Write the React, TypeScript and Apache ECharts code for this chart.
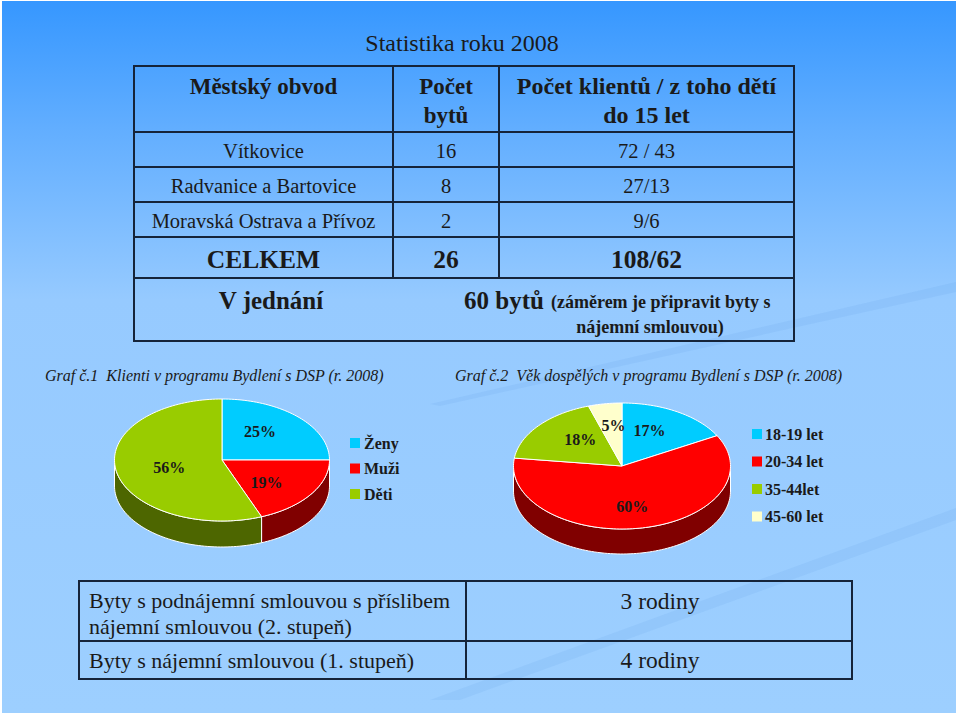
import React, { useEffect, useRef } from "react";
import * as echarts from "echarts";

// ---------- data ----------
const titleText = "Statistika roku 2008";
const headerDistrict = "Městský obvod";
const headerFlats = ["Počet", "bytů"];
const headerClients = ["Počet klientů / z toho dětí", "do 15 let"];
const districts = ["Vítkovice", "Radvanice a Bartovice", "Moravská Ostrava a Přívoz"];
const flats = ["16", "8", "2"];
const clients = ["72 / 43", "27/13", "9/6"];
const totalLabel = "CELKEM";
const totalFlats = "26";
const totalClients = "108/62";
const negotiationLabel = "V jednání";
const negotiationValue = "60 bytů";
const negotiationNote = ["(záměrem je připravit byty s", "nájemní smlouvou)"];

const chart1Caption = "Graf č.1  Klienti v programu Bydlení s DSP (r. 2008)";
const chart1Categories = ["Ženy", "Muži", "Děti"];
const chart1Values = [25, 19, 56];
const chart1Colors = ["#00ccff", "#ff0000", "#99cc00"];
const chart1Sides = ["#006680", "#800000", "#4d6600"];

const chart2Caption = "Graf č.2  Věk dospělých v programu Bydlení s DSP (r. 2008)";
const chart2Categories = ["18-19 let", "20-34 let", "35-44let", "45-60 let"];
const chart2Values = [17, 60, 18, 5];
const chart2Colors = ["#00ccff", "#ff0000", "#99cc00", "#ffffcc"];
const chart2Sides = ["#006680", "#800000", "#4d6600", "#808066"];

const stageLabels = [
  ["Byty s podnájemní smlouvou s příslibem", "nájemní smlouvou (2. stupeň)"],
  ["Byty s nájemní smlouvou (1. stupeň)"],
];
const stageValues = ["3 rodiny", "4 rodiny"];

// ---------- style ----------
const SERIF = "Liberation Serif, Times New Roman, serif";
const INK = "#1a1a1a";
const LINE = "#15243a";

function pieRenderer(
  values: number[],
  colors: string[],
  sides: string[],
  cx: number,
  cy: number,
  rx: number,
  ry: number,
  depth: number
) {
  const total = values.reduce((a, b) => a + b, 0);
  const starts: number[] = [];
  let acc = 0;
  values.forEach((v) => {
    starts.push(acc);
    acc += v;
  });
  const P = (t: number, dy = 0) => [cx + rx * Math.sin(t), cy - ry * Math.cos(t) + dy];
  return (params: any, api: any) => {
    const i = params.dataIndex;
    const v = api.value(0);
    const a0 = (starts[i] / total) * Math.PI * 2;
    const a1 = a0 + (v / total) * Math.PI * 2;
    const n = Math.max(4, Math.ceil((a1 - a0) / 0.03));
    const top: number[][] = [[cx, cy]];
    for (let k = 0; k <= n; k++) top.push(P(a0 + ((a1 - a0) * k) / n));
    const children: any[] = [];
    const s0 = Math.max(a0, Math.PI / 2);
    const s1 = Math.min(a1, (Math.PI * 3) / 2);
    if (s1 > s0) {
      const m = Math.max(4, Math.ceil((s1 - s0) / 0.03));
      const upper: number[][] = [];
      const lower: number[][] = [];
      for (let k = 0; k <= m; k++) {
        const t = s0 + ((s1 - s0) * k) / m;
        upper.push(P(t));
        lower.push(P(t, depth));
      }
      children.push({
        type: "polygon",
        z2: 1,
        shape: { points: upper.concat(lower.reverse()) },
        style: { fill: sides[i], stroke: "#ffffff", lineWidth: 1 },
      });
    }
    children.push({
      type: "polygon",
      z2: 5,
      shape: { points: top },
      style: { fill: colors[i], stroke: "#ffffff", lineWidth: 1 },
    });
    const mid = (a0 + a1) / 2;
    children.push({
      type: "text",
      z2: 10,
      style: {
        text: v + "%",
        x: cx + rx * 0.5 * Math.sin(mid),
        y: cy - ry * 0.65 * Math.cos(mid),
        font: `bold 16px ${SERIF}`,
        fill: INK,
        align: "center",
        verticalAlign: "middle",
      },
    });
    return { type: "group", children };
  };
}

function txt(text: string, x: number, y: number, font: string, align = "center") {
  return {
    type: "text",
    style: { text, x, y, font, fill: INK, align, verticalAlign: "middle" },
  };
}
function ln(x1: number, y1: number, x2: number, y2: number) {
  return {
    type: "line",
    shape: { x1, y1, x2, y2 },
    style: { stroke: LINE, lineWidth: 2 },
  };
}

function legend(cats: string[], colors: string[], sx: number, tx: number, y0: number, step: number, size: number) {
  const out: any[] = [];
  cats.forEach((c, i) => {
    const y = y0 + i * step;
    out.push({
      type: "rect",
      shape: { x: sx, y: y - 5, width: 10, height: 10 },
      style: { fill: colors[i] },
    });
    out.push(txt(c, tx, y, `bold ${size}px ${SERIF}`, "left"));
  });
  return out;
}

export default function App() {
  const ref = useRef<HTMLDivElement>(null);
  useEffect(() => {
    if (!ref.current) return;
    const chart = echarts.init(ref.current, null, { renderer: "svg" });

    // main table geometry
    const tL = 134, tR = 794, c1 = 393, c2 = 499;
    const rows = [66, 132, 167, 202, 237, 278, 341];
    const col1 = (tL + c1) / 2, col2 = (c1 + c2) / 2, col3 = (c2 + tR) / 2;

    const g: any[] = [];
    g.push({
      type: "rect",
      shape: { x: 2, y: 1, width: 954, height: 712 },
      style: {
        fill: new echarts.graphic.LinearGradient(0, 0, 0, 1, [
          { offset: 0, color: "#3697ff" },
          { offset: 0.18, color: "#62aeff" },
          { offset: 0.42, color: "#96caff" },
          { offset: 1, color: "#9dcfff" },
        ]),
      },
      z: -10,
    });
    // faint decorative swooshes
    g.push({
      type: "polygon",
      shape: { points: [[430, 404], [956, 282], [956, 292], [440, 406]] },
      style: { fill: "rgba(70,130,210,0.09)" },
      z: -9,
    });
    g.push({
      type: "polygon",
      shape: { points: [[430, 700], [956, 508], [956, 520], [460, 700]] },
      style: { fill: "rgba(70,130,210,0.09)" },
      z: -9,
    });

    g.push(txt(titleText, 462, 43, `24px ${SERIF}`));
    // table lines
    rows.forEach((y) => g.push(ln(tL, y, tR, y)));
    g.push(ln(tL, rows[0] - 1, tL, rows[6] + 1));
    g.push(ln(tR, rows[0] - 1, tR, rows[6] + 1));
    g.push(ln(c1, rows[0], c1, rows[5]));
    g.push(ln(c2, rows[0], c2, rows[5]));
    // header
    g.push(txt(headerDistrict, col1, 86, `bold 23px ${SERIF}`));
    g.push(txt(headerFlats[0], col2, 86, `bold 23px ${SERIF}`));
    g.push(txt(headerFlats[1], col2, 115, `bold 23px ${SERIF}`));
    g.push(txt(headerClients[0], col3, 86, `bold 24px ${SERIF}`));
    g.push(txt(headerClients[1], col3, 115, `bold 24px ${SERIF}`));
    // rows
    districts.forEach((d, i) => {
      const y = (rows[i + 1] + rows[i + 2]) / 2 + 1;
      g.push(txt(d, col1, y, `20.5px ${SERIF}`));
      g.push(txt(flats[i], col2, y, `20.5px ${SERIF}`));
      g.push(txt(clients[i], col3, y, `20.5px ${SERIF}`));
    });
    g.push(txt(totalLabel, col1, 259, `bold 25.5px ${SERIF}`));
    g.push(txt(totalFlats, col2, 259, `bold 25.5px ${SERIF}`));
    g.push(txt(totalClients, col3, 259, `bold 25.5px ${SERIF}`));
    g.push(txt(negotiationLabel, 271, 300, `bold 25px ${SERIF}`));
    g.push(txt(negotiationValue, 464, 300, `bold 25px ${SERIF}`, "left"));
    g.push(txt(negotiationNote[0], 551, 302, `bold 18px ${SERIF}`, "left"));
    g.push(txt(negotiationNote[1], 650, 327, `bold 18px ${SERIF}`));

    // captions
    g.push({
      type: "text",
      style: { text: chart1Caption, x: 45, y: 375, font: `italic 16px ${SERIF}`, fill: INK, align: "left", verticalAlign: "middle" },
    });
    g.push({
      type: "text",
      style: { text: chart2Caption, x: 455, y: 375, font: `italic 16px ${SERIF}`, fill: INK, align: "left", verticalAlign: "middle" },
    });

    // legends
    legend(chart1Categories, chart1Colors, 350, 364, 443, 25.5, 16).forEach((e) => g.push(e));
    legend(chart2Categories, chart2Colors, 752, 765, 434, 27.5, 16).forEach((e) => g.push(e));

    // bottom table
    const bL = 79, bR = 852, bC = 466, bT = 581, bM = 641, bB = 679;
    g.push(ln(bL, bT, bR, bT));
    g.push(ln(bL, bM, bR, bM));
    g.push(ln(bL, bB, bR, bB));
    g.push(ln(bL, bT - 1, bL, bB + 1));
    g.push(ln(bR, bT - 1, bR, bB + 1));
    g.push(ln(bC, bT, bC, bB));
    g.push(txt(stageLabels[0][0], 89, 600, `22px ${SERIF}`, "left"));
    g.push(txt(stageLabels[0][1], 89, 626, `22px ${SERIF}`, "left"));
    g.push(txt(stageLabels[1][0], 89, 660, `22px ${SERIF}`, "left"));
    g.push(txt(stageValues[0], (bC + bR) / 2 + 1, 601, `23.5px ${SERIF}`));
    g.push(txt(stageValues[1], (bC + bR) / 2 + 1, 660, `23.5px ${SERIF}`));

    chart.setOption({
      animation: false,
      backgroundColor: "#ffffff",
      graphic: { elements: g },
      series: [
        {
          type: "custom",
          name: "Graf 1",
          coordinateSystem: "none",
          silent: true,
          z: 5,
          data: chart1Values.map((v, i) => ({ name: chart1Categories[i], value: [v] })),
          renderItem: pieRenderer(chart1Values, chart1Colors, chart1Sides, 222, 460, 107.5, 61, 26),
        },
        {
          type: "custom",
          name: "Graf 2",
          coordinateSystem: "none",
          silent: true,
          z: 5,
          data: chart2Values.map((v, i) => ({ name: chart2Categories[i], value: [v] })),
          renderItem: pieRenderer(chart2Values, chart2Colors, chart2Sides, 622, 466, 108.5, 63, 25),
        },
      ],
    });
    return () => chart.dispose();
  }, []);
  return (
    <div
      ref={ref}
      style={{ position: "fixed", left: 0, top: 0, width: 960, height: 716 }}
    />
  );
}
